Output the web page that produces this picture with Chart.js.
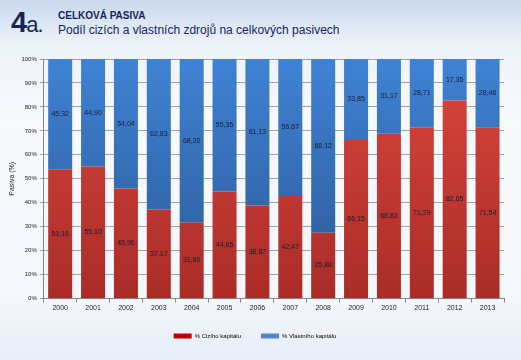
<!DOCTYPE html>
<html>
<head>
<meta charset="utf-8">
<script src="https://cdn.jsdelivr.net/npm/chart.js@4"></script>
<style>
  body { margin: 0; width: 521px; height: 360px; overflow: hidden; font-family: "Liberation Sans", Arial, sans-serif;
         background: linear-gradient(180deg, #c9d8ee 0px, #eef3fa 45px, #f7f9fd 120px, #f4f7fc 300px, #e6edf7 360px); }
  #head { position: absolute; left: 0; top: 0; width: 521px; height: 50px; }
  #num { position: absolute; left: 11px; top: 6px; font-size: 29px; font-weight: bold; color: #16245a; letter-spacing: -1px; }
  #num span { font-size: 22px; font-weight: normal; }
  #t1 { position: absolute; left: 58px; top: 10px; font-size: 10px; font-weight: bold; color: #16245a; }
  #t2 { position: absolute; left: 58px; top: 23px; font-size: 12px; color: #16245a; }
  #wrap { position: absolute; left: 0; top: 50px; width: 521px; height: 299px; }
</style>
</head>
<body>
<div id="head">
  <div id="num">4<span>a.</span></div>
  <div id="t1">CELKOVÁ PASIVA</div>
  <div id="t2">Podíl cizích a vlastních zdrojů na celkových pasivech</div>
</div>
<div id="wrap"><canvas id="chart"></canvas></div>
<script>
const years = ['2000', '2001', '2002', '2003', '2004', '2005', '2006', '2007', '2008', '2009', '2010', '2011', '2012', '2013'];
const ciziKapital = [53.16, 55.10, 45.96, 37.17, 31.80, 44.65, 38.87, 42.47, 25.88, 66.15, 68.83, 71.29, 82.65, 71.54];
const vlastniKapital = [45.32, 44.90, 54.04, 62.83, 68.20, 55.35, 61.13, 56.67, 68.12, 33.85, 31.17, 28.71, 17.35, 28.46];

// 100% stacked: each column shown as share of its total
const totals = years.map((y, i) => ciziKapital[i] + vlastniKapital[i]);
const ciziShare = ciziKapital.map((v, i) => v / totals[i] * 100);
const vlastniShare = vlastniKapital.map((v, i) => v / totals[i] * 100);

function grad(ctx, top, bottom) {
    const area = ctx.chart.chartArea;
    if (!area) return top;
    const g = ctx.chart.ctx.createLinearGradient(0, area.top, 0, area.bottom);
    g.addColorStop(0, top);
    g.addColorStop(1, bottom);
    return g;
}

const valueLabels = {
    id: 'valueLabels',
    afterDatasetsDraw(chart) {
        const c = chart.ctx;
        c.save();
        c.font = '7px "Liberation Sans", Arial, sans-serif';
        c.fillStyle = '#141c38';
        c.textAlign = 'center';
        c.textBaseline = 'middle';
        chart.data.datasets.forEach((ds, di) => {
            chart.getDatasetMeta(di).data.forEach((bar, i) => {
                const mid = (bar.y + bar.base) / 2;
                c.fillText(ds.raw[i].toFixed(2).replace('.', ','), bar.x, mid);
            });
        });
        c.restore();
    }
};

// keep the legend strip short so the plot reaches further down
const legendHeight = {
    id: 'legendHeight',
    beforeInit(chart) {
        const fit = chart.legend.fit;
        chart.legend.fit = function () {
            fit.call(this);
            this.height = 36;
        };
    }
};

new Chart(document.getElementById('chart'), {
    type: 'bar',
    data: {
        labels: years,
        datasets: [{
            label: '% Cizího kapitálu',
            data: ciziShare,
            raw: ciziKapital,
            backgroundColor: ctx => grad(ctx, '#da463e', '#aa2c27'),
            legendColor: '#c00000'
        }, {
            label: '% Vlastního kapitálu',
            data: vlastniShare,
            raw: vlastniKapital,
            backgroundColor: ctx => grad(ctx, '#3f82d4', '#2b5996'),
            legendColor: '#4f86cc'
        }]
    },
    options: {
        responsive: true,
        maintainAspectRatio: false,
        animation: false,
        layout: { padding: { left: 6, right: 17, top: 9, bottom: 0 } },
        datasets: { bar: { categoryPercentage: 0.73, barPercentage: 1 } },
        scales: {
            x: {
                stacked: true,
                grid: { drawOnChartArea: false, color: '#888', tickLength: 4 },
                border: { color: '#888' },
                ticks: { color: '#222', font: { size: 7 }, padding: 1 }
            },
            y: {
                stacked: true,
                min: 0, max: 100,
                grid: { color: '#8a8a8a', lineWidth: 0.8, tickLength: 4 },
                border: { color: '#888' },
                ticks: { stepSize: 10, color: '#222', font: { size: 6 }, callback: v => v + '%' },
                title: { display: true, text: 'Pasiva (%)', color: '#222', font: { size: 7 }, padding: 2 }
            }
        },
        plugins: {
            legend: {
                position: 'bottom',
                labels: {
                    boxWidth: 18, boxHeight: 5, padding: 20, color: '#222', font: { size: 6 },
                    generateLabels: chart => chart.data.datasets.map((ds, i) => ({
                        text: ds.label, fillStyle: ds.legendColor, strokeStyle: ds.legendColor,
                        lineWidth: 0, datasetIndex: i
                    }))
                }
            },
            tooltip: { enabled: false }
        }
    },
    plugins: [valueLabels, legendHeight]
});
</script>
</body>
</html>
